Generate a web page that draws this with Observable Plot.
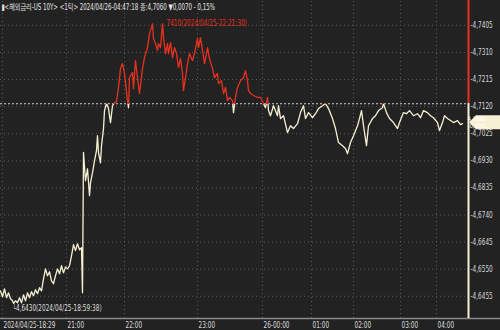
<!DOCTYPE html>
<html><head><meta charset="utf-8">
<script src="https://cdn.jsdelivr.net/npm/d3@7"></script>
<script src="https://cdn.jsdelivr.net/npm/@observablehq/plot@0.6"></script>
<style>
html,body{margin:0;padding:0;background:#222;}
#chart{position:relative;width:500px;height:330px;}
</style></head><body><div id="chart"></div>
<script>
// tick sequence number (position in the tick feed) and yield at that tick
const seq = [0,2,4,6,8,10,12,13,15,17,19,21,23,25,27,29,31,33,35,37,39,41,43,45,47,49,51,53,55,57,59,61,63,65,67,69,71,73,75,77,79,81,82,83,85,87,89,90,92,94,96,97,98,100,101,103,104,106,108,110,112,114,116,118,120,122,124,127,128,129,132,133,135,137,139,142,144,147,149,152,153,155,157,158,160,162,163,165,167,168,170,172,174,176,178,180,182,183,185,187,189,192,194,197,198,200,202,204,206,207,209,212,214,217,218,221,223,225,227,229,232,233,235,237,240,243,245,247,248,250,253,257,260,263,265,267,268,270,273,277,278,280,283,287,290,293,297,300,303,305,308,312,315,318,322,325,328,332,335,338,342,345,347,350,353,357,359,361,363,366,368,372,375,378,382,383,386,389,393,397,399,403,406,409,413,417,420,423,427,430,433,437,439,442,444,447,450,453,457,460,462];
const yields = [4.6474,4.6453,4.6481,4.6450,4.6467,4.6446,4.6439,4.6430,4.6439,4.6432,4.6450,4.6432,4.6460,4.6439,4.6467,4.6450,4.6471,4.6457,4.6478,4.6464,4.6485,4.6474,4.6516,4.6551,4.6527,4.6541,4.6509,4.6499,4.6527,4.6551,4.6534,4.6562,4.6537,4.6558,4.6551,4.6562,4.6597,4.6636,4.6615,4.6639,4.6618,4.6625,4.6467,4.6959,4.6860,4.6902,4.6808,4.6853,4.6888,4.6930,4.6966,4.7018,4.6959,4.6923,4.6983,4.7043,4.7106,4.7131,4.7113,4.7064,4.7123,4.7134,4.7138,4.7187,4.7253,4.7271,4.7236,4.7141,4.7116,4.7222,4.7239,4.7183,4.7281,4.7222,4.7166,4.7253,4.7292,4.7327,4.7376,4.7410,4.7359,4.7341,4.7317,4.7341,4.7327,4.7410,4.7362,4.7306,4.7341,4.7306,4.7345,4.7292,4.7327,4.7306,4.7257,4.7288,4.7236,4.7176,4.7222,4.7271,4.7306,4.7281,4.7306,4.7359,4.7327,4.7362,4.7317,4.7271,4.7306,4.7327,4.7288,4.7253,4.7222,4.7236,4.7201,4.7211,4.7166,4.7187,4.7141,4.7152,4.7141,4.7099,4.7152,4.7187,4.7211,4.7222,4.7246,4.7211,4.7176,4.7166,4.7159,4.7152,4.7152,4.7131,4.7116,4.7152,4.7106,4.7088,4.7123,4.7088,4.7123,4.7078,4.7088,4.7029,4.7053,4.7043,4.7060,4.7099,4.7123,4.7078,4.7099,4.7081,4.7095,4.7113,4.7123,4.7131,4.7113,4.7078,4.7043,4.6994,4.6983,4.6973,4.6955,4.6994,4.7018,4.7053,4.7078,4.7106,4.7053,4.6983,4.7053,4.7078,4.7088,4.7106,4.7116,4.7131,4.7099,4.7078,4.7064,4.7043,4.7064,4.7099,4.7095,4.7106,4.7088,4.7095,4.7081,4.7106,4.7099,4.7088,4.7081,4.7064,4.7036,4.7064,4.7088,4.7078,4.7071,4.7064,4.7071,4.7057,4.7060];
const prevClose = 4.7130;
const changeText = "-0,15%";
const yTicks = [4.6455, 4.6550, 4.6645, 4.6740, 4.6835, 4.6930, 4.7025, 4.7120, 4.7215, 4.7310, 4.7405];
const hourTicks = [2, 66, 124, 197, 262, 311, 353, 400, 436];
const hourLabels = ["2024/04/25-18:29", "21:00", "22:00", "23:00", "26-00:00", "01:00", "02:00", "03:00", "04:00"];
const header = "▮<해외금리-US 10Y> <1틱> 2024/04/26-04:47:18 종:4,7060 ▼0,0070 - 0,15%";
const minLabel = "└4,6430(2024/04/25-18:59:38)";
const maxLabel = "7410(2024/04/25-22:21:30)";

const RED = "#e8301f", CREAM = "#f6f1d3";
const FONT = "'Liberation Sans Narrow','DejaVu Sans Condensed','Noto Sans CJK KR',sans-serif";
const xMax = 468, yMin = 4.6377, yMax = 4.7492;
const fmt = v => d3.format(".4f")(v).replace(".", ",");

const data = seq.map((s, i) => ({s, v: yields[i]}));
const iMin = d3.minIndex(yields), iMax = d3.maxIndex(yields);
const last = data[data.length - 1];

const plot = Plot.plot({
  width: 500, height: 330,
  marginLeft: 0, marginRight: 32, marginTop: 0, marginBottom: 12,
  style: {background: "#222", color: "#ddd", fontFamily: FONT, fontSize: "8px", overflow: "visible"},
  x: {domain: [0, xMax], axis: null},
  y: {domain: [yMin, yMax], axis: null},
  marks: [
    Plot.ruleY(yTicks, {y: d => d, x1: () => 0, x2: () => xMax, stroke: "#5a5a5a", strokeDasharray: "1,3"}),
    Plot.ruleX(hourTicks, {x: d => d, y1: () => yMin, y2: () => yMax, stroke: "#5a5a5a", strokeDasharray: "1,3"}),
    Plot.ruleY([prevClose], {y: d => d, x1: () => 0, x2: () => xMax, stroke: "#d0d0d0", strokeDasharray: "2,2"}),
    Plot.ruleY([yMin], {y: d => d, x1: () => 0, x2: () => 500, stroke: "#8a8a8a", strokeWidth: 1.5}),
    Plot.line(data, {x: "s", y: "v", stroke: "url(#thr)", strokeWidth: 1.3}),
    Plot.ruleX([xMax], {x: d => d, y1: () => yMin, y2: () => yMax, stroke: "url(#thr)", strokeWidth: 2}),
    Plot.text(yTicks, {x: () => xMax, y: d => d, text: d => "-" + fmt(d), dx: 2, textAnchor: "start", fill: "#d8d8d8", fontSize: 8}),
    Plot.text(hourTicks, {x: d => d, y: () => yMin, text: (d, i) => hourLabels[i], dx: 1, dy: 7, textAnchor: "start", fill: "#dddddd", fontSize: 8}),
    Plot.text([data[iMin]], {x: "s", y: "v", text: () => minLabel, dx: -1, dy: 5, textAnchor: "start", fill: "#dddddd", fontSize: 8}),
    Plot.text([data[iMax]], {x: "s", y: "v", text: () => maxLabel, dx: 14, dy: 0, textAnchor: "start", fill: RED, fontSize: 8}),
    Plot.text([header], {frameAnchor: "top-left", text: d => d, dx: 1, dy: 3, lineAnchor: "top", textAnchor: "start", fill: "#e6e6e6", fontSize: 8.5, className: "hdr"})
  ]
});

const ys = plot.scale("y");
const yThr = ys.apply(prevClose);
const ns = "http://www.w3.org/2000/svg";
const defs = document.createElementNS(ns, "defs");
defs.innerHTML = `<linearGradient id="thr" gradientUnits="userSpaceOnUse" x1="0" y1="0" x2="0" y2="330">
  <stop offset="${yThr / 330}" stop-color="${RED}"/><stop offset="${yThr / 330}" stop-color="${CREAM}"/></linearGradient>`;
plot.insertBefore(defs, plot.firstChild);

document.getElementById("chart").appendChild(plot);

// narrow the lettering like the terminal's condensed bitmap font
plot.querySelectorAll("text").forEach(t => {
  const L = t.getComputedTextLength();
  const k = t.closest(".hdr") ? 0.72 : 0.8;
  if (L > 0) { t.setAttribute("textLength", (L * k).toFixed(1)); t.setAttribute("lengthAdjust", "spacingAndGlyphs"); }
});

// current value tag on the right axis
const yl = ys.apply(last.v);
const g = document.createElementNS(ns, "g");
const ff = FONT.replace(/'/g, "");
g.innerHTML = `<path d="M469,${yl - 1} L476,${yl - 8} L500,${yl - 8} L500,${yl + 6} L476,${yl + 6} Z" fill="${CREAM}"/>
  <text x="477" y="${yl - 2}" font-size="6" fill="#ffffff" font-family="${ff}">${fmt(last.v)}</text>
  <text x="477" y="${yl + 4.5}" font-size="6" fill="#ffffff" font-family="${ff}">${changeText}</text>`;
plot.appendChild(g);
</script></body></html>
